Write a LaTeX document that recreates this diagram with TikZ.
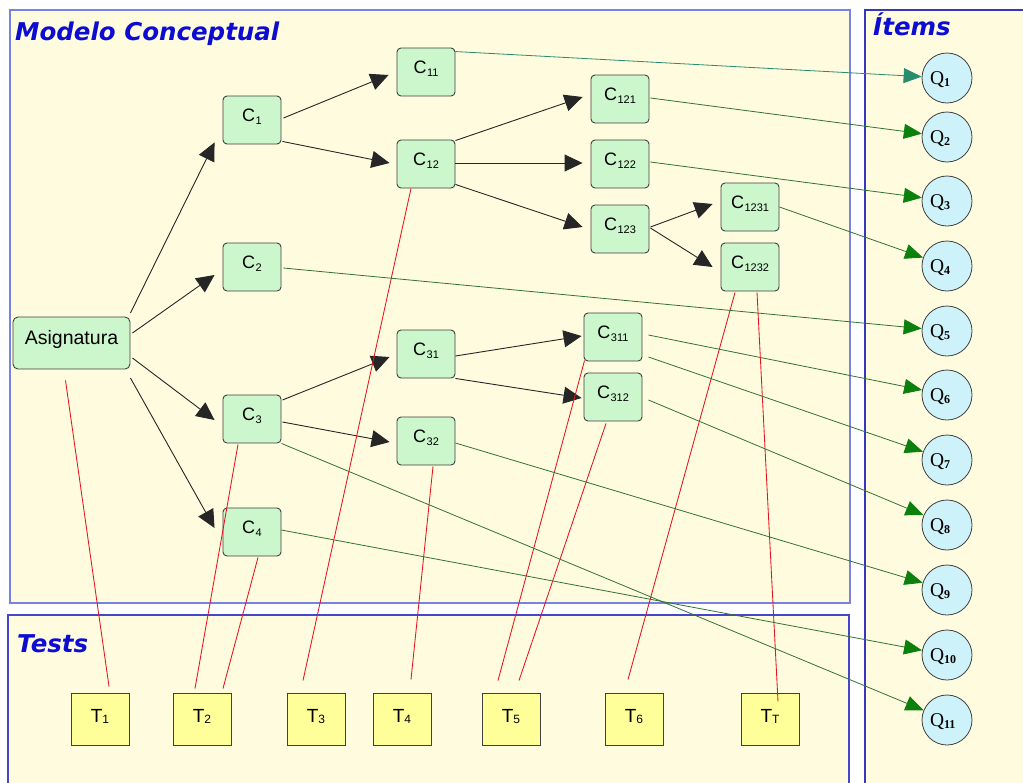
\documentclass[tikz,border=0pt]{standalone}
\usepackage{fontspec}
\setmainfont{Liberation Sans}
\newfontfamily\titlefont{DejaVu Sans}
\newfontfamily\qfont{Liberation Serif}
\usetikzlibrary{arrows.meta}

\definecolor{panelfill}{RGB}{255,251,222}
\definecolor{modeloline}{RGB}{120,130,225}
\definecolor{testsline}{RGB}{70,70,200}
\definecolor{itemsline}{RGB}{55,55,190}
\definecolor{titleblue}{RGB}{12,12,210}
\definecolor{cfill}{RGB}{204,246,204}
\definecolor{tfill}{RGB}{255,255,153}
\definecolor{qfill}{RGB}{206,242,250}
\definecolor{boxline}{RGB}{64,64,64}
\definecolor{linegreen}{RGB}{50,115,50}
\definecolor{headgreen}{RGB}{12,128,12}
\definecolor{tealgreen}{RGB}{40,140,110}
\definecolor{linkred}{RGB}{228,20,30}

% node labels with subscripts
\newcommand\Cn[1]{C\kern0.5pt\raisebox{-3pt}{\fontsize{11}{11}\selectfont #1}}
\newcommand\Tn[1]{T\raisebox{-1.5pt}{\fontsize{12}{12}\selectfont #1}}
\newcommand\Qn[1]{\makebox[34pt][l]{Q\raisebox{-2pt}{\fontsize{12}{12}\selectfont\bfseries #1}}}

\tikzset{
  conbox/.style={draw=boxline, fill=cfill, rounded corners=4pt, line width=0.9pt,
    minimum width=58pt, minimum height=48pt, inner sep=0pt,
    font=\fontsize{18}{18}\selectfont, text height=3pt, text depth=0pt},
  testbox/.style={draw=boxline, fill=tfill, line width=1pt,
    minimum width=58pt, minimum height=52pt, inner sep=0pt,
    font=\fontsize{19}{19}\selectfont, text height=6pt, text depth=0pt},
  itemnode/.style={circle, draw=boxline, fill=qfill, line width=0.8pt,
    minimum size=50pt, inner sep=0pt,
    font=\qfont\fontsize{19.5}{20}\selectfont, text height=12pt, text depth=0pt},
  paneltitle/.style={anchor=base west, inner sep=0pt, text=titleblue,
    font=\titlefont\bfseries\itshape\fontsize{24.5}{25}\selectfont},
  blk/.style={draw=black!85, line width=0.9pt, -{Triangle[length=18pt,width=17pt]}},
  grn/.style={draw=linegreen, line width=0.8pt,
    -{Triangle[length=18pt,width=15pt,color=headgreen]}},
  tealarrow/.style={draw=tealgreen, line width=0.8pt,
    -{Triangle[length=18pt,width=15pt,color=tealgreen]}},
  redlink/.style={draw=linkred, line width=0.85pt},
}

\begin{document}
\begin{tikzpicture}[x=1pt,y=-1pt]
\useasboundingbox (0,0) rectangle (1023,782);
\fill[white] (0,0) rectangle (1023,782);

% panels
\fill[panelfill] (10,10) rectangle (850,603);
\draw[modeloline, line width=1.1pt] (10,10) rectangle (850,603);
\fill[panelfill] (8,615) rectangle (849,790);
\draw[testsline, line width=1.1pt] (8,790) -- (8,615) -- (849,615) -- (849,790);
\fill[panelfill] (865,10) rectangle (1030,790);
\draw[itemsline, line width=1.1pt] (865,790) -- (865,10) -- (1030,10);

\node[paneltitle] (tmodelo) at (15,40) {Modelo Conceptual};
\node[paneltitle] (ttests) at (17,652) {Tests};
\node[paneltitle] (titems) at (873,35) {Ítems};

% conceptual model
\node[conbox, minimum width=117pt, minimum height=52pt,
      font=\fontsize{19.5}{20}\selectfont, text height=2pt, rounded corners=5pt]
      (As) at (71.5,343) {Asignatura};
\node[conbox] (C1) at (252,120) {\Cn{1}};
\node[conbox] (C2) at (252,267) {\Cn{2}};
\node[conbox] (C3) at (252,419) {\Cn{3}};
\node[conbox] (C4) at (252,532) {\Cn{4}};
\node[conbox] (C11) at (426,72) {\Cn{11}};
\node[conbox] (C12) at (426,164) {\Cn{12}};
\node[conbox] (C121) at (620,99) {\Cn{121}};
\node[conbox] (C122) at (620,164) {\Cn{122}};
\node[conbox] (C123) at (620,229) {\Cn{123}};
\node[conbox] (C1231) at (750,207) {\Cn{1231}};
\node[conbox] (C1232) at (750,267) {\Cn{1232}};
\node[conbox] (C31) at (426,354) {\Cn{31}};
\node[conbox] (C32) at (426,441) {\Cn{32}};
\node[conbox] (C311) at (613,337) {\Cn{311}};
\node[conbox] (C312) at (613,397) {\Cn{312}};

% tests
\node[testbox] (T1) at (100,719) {\Tn{1}};
\node[testbox] (T2) at (202,719) {\Tn{2}};
\node[testbox] (T3) at (316,719) {\Tn{3}};
\node[testbox] (T4) at (402,719) {\Tn{4}};
\node[testbox] (T5) at (511,719) {\Tn{5}};
\node[testbox] (T6) at (634,719) {\Tn{6}};
\node[testbox] (T7) at (770,719) {\Tn{T}};

% items
\node[itemnode] (Q1) at (947,78) {\Qn{1}};
\node[itemnode] (Q2) at (947,137) {\Qn{2}};
\node[itemnode] (Q3) at (947,201) {\Qn{3}};
\node[itemnode] (Q4) at (947,266) {\Qn{4}};
\node[itemnode] (Q5) at (947,331) {\Qn{5}};
\node[itemnode] (Q6) at (947,395) {\Qn{6}};
\node[itemnode] (Q7) at (947,460) {\Qn{7}};
\node[itemnode] (Q8) at (947,525) {\Qn{8}};
\node[itemnode] (Q9) at (947,590) {\Qn{9}};
\node[itemnode] (Q10) at (947,655) {\Qn{10}};
\node[itemnode] (Q11) at (947,720) {\Qn{11}};

% hierarchy of concepts
\draw[blk] ([shift={(0,-30)}]As.east) -- ([shift={(-8,-2)}]C1.south west);
\draw[blk] ([shift={(2,-10)}]As.east) -- ([shift={(-8,8)}]C2.west);
\draw[blk] ([shift={(2,15)}]As.east) -- ([shift={(-8,1)}]C3.west);
\draw[blk] ([shift={(0,35)}]As.east) -- ([shift={(-8,-4)}]C4.west);
\draw[blk] ([shift={(2,-2)}]C1.east) -- ([shift={(-8,3)}]C11.west);
\draw[blk] ([shift={(1,-3)}]C1.south east) -- ([shift={(-7,-1)}]C12.west);
\draw[blk] ([shift={(0,1)}]C12.north east) -- ([shift={(-8,-2)}]C121.west);
\draw[blk] ([shift={(0,-1)}]C12.east) -- ([shift={(-8,-1)}]C122.west);
\draw[blk] ([shift={(0,-4)}]C12.south east) -- ([shift={(-8,-2)}]C123.west);
\draw[blk] ([shift={(1,-2)}]C123.east) -- ([shift={(-8,-3)}]C1231.west);
\draw[blk] ([shift={(1,-1)}]C123.east) -- ([shift={(-8,0)}]C1232.west);
\draw[blk] ([shift={(1,-19)}]C3.east) -- ([shift={(-7,3)}]C31.west);
\draw[blk] ([shift={(1,3)}]C3.east) -- ([shift={(-7,1)}]C32.west);
\draw[blk] ([shift={(0,2)}]C31.east) -- ([shift={(-2,-1)}]C311.west);
\draw[blk] (C31.south east) -- ([shift={(-2,1)}]C312.west);

% concepts assessed by each test
\draw[redlink] ([shift={(-6,11)}]As.south) -- ([shift={(9,-6)}]T1.north);
\draw[redlink] ([shift={(-14,1)}]C3.south) -- ([shift={(-7,-4)}]T2.north);
\draw[redlink] ([shift={(6,1)}]C4.south) -- ([shift={(21,-4)}]T2.north);
\draw[redlink] ([shift={(-15,0)}]C12.south) -- ([shift={(-13,-12)}]T3.north);
\draw[redlink] ([shift={(7,1)}]C32.south) -- ([shift={(9,-13)}]T4.north);
\draw[redlink] ([shift={(1,-1)}]C311.south west) -- ([shift={(-13,-12)}]T5.north);
\draw[redlink] ([shift={(-7,2)}]C312.south) -- ([shift={(8,-12)}]T5.north);
\draw[redlink] ([shift={(-15,1)}]C1232.south) -- ([shift={(-6,-13)}]T6.north);
\draw[redlink] ([shift={(7,1)}]C1232.south) -- ([shift={(8,9)}]T7.north);

% concepts measured by each item
\draw[tealarrow] ([shift={(0,4)}]C11.north east) -- (Q1);
\draw[grn] ([shift={(1,-1)}]C121.east) -- (Q2);
\draw[grn] ([shift={(1,-2)}]C122.east) -- (Q3);
\draw[grn] (C1231.east) -- (Q4);
\draw[grn] ([shift={(2,1)}]C2.east) -- (Q5);
\draw[grn] ([shift={(6,-2)}]C311.east) -- (Q6);
\draw[grn] ([shift={(6,20)}]C311.east) -- (Q7);
\draw[grn] ([shift={(6,3)}]C312.east) -- (Q8);
\draw[grn] ([shift={(0,2)}]C32.east) -- (Q9);
\draw[grn] ([shift={(0,-2)}]C4.east) -- (Q10);
\draw[grn] (C3.south east) -- (Q11);
\end{tikzpicture}
\end{document}
